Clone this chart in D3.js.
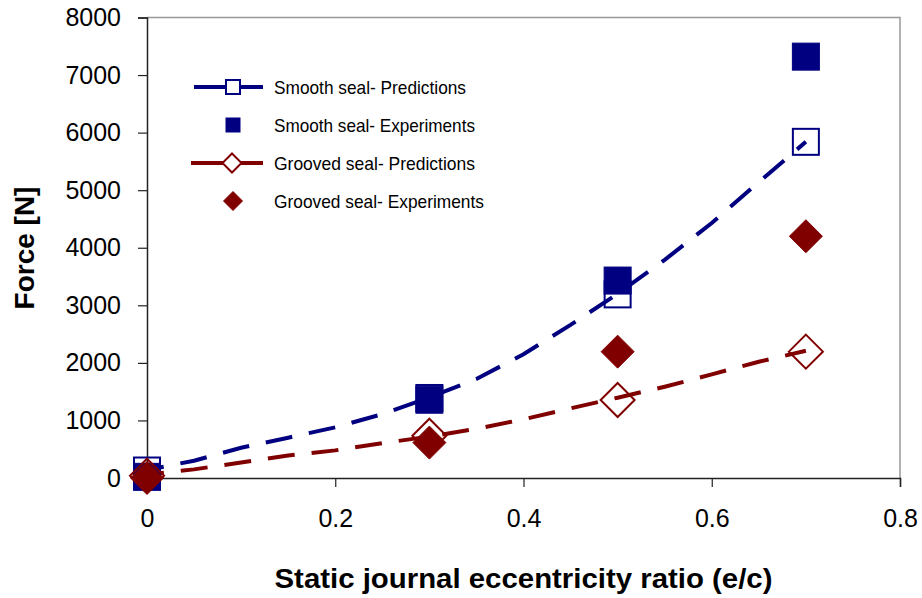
<!DOCTYPE html>
<html>
<head>
<meta charset="utf-8">
<script src="https://cdn.jsdelivr.net/npm/d3@7"></script>
<style>
  body { margin: 0; background: #fff; }
  text { font-family: "Liberation Sans", Arial, sans-serif; fill: #000; }
</style>
</head>
<body>
<svg id="chart" width="922" height="598"></svg>
<script>
// prediction curves
const curveX = [0, 0.05, 0.1, 0.15, 0.2, 0.25, 0.3, 0.35, 0.4, 0.45, 0.5, 0.55, 0.6, 0.65, 0.7];
const smoothPredCurve = [140, 300, 525, 700, 880, 1110, 1400, 1720, 2150, 2660, 3200, 3790, 4430, 5140, 5840];
const groovedPredCurve = [60, 150, 270, 390, 480, 605, 720, 855, 1020, 1210, 1395, 1585, 1800, 2020, 2210];

// markers
const markerX = [0, 0.3, 0.5, 0.7];
const smoothPred = [130, 1390, 3190, 5840];
const smoothExp = [20, 1360, 3430, 7320];
const groovedPred = [40, 735, 1355, 2195];
const groovedExp = [0, 615, 2195, 4200];

const xTicks = [0, 0.2, 0.4, 0.6, 0.8];
const yTicks = [0, 1000, 2000, 3000, 4000, 5000, 6000, 7000, 8000];
const legendLabels = [
  "Smooth seal- Predictions",
  "Smooth seal- Experiments",
  "Grooved seal- Predictions",
  "Grooved seal- Experiments"
];

const navy = "#000080";
const maroon = "#800000";

const svg = d3.select("#chart");
const plotLeft = 147, plotRight = 900, plotTop = 17.5, plotBottom = 478;

const x = d3.scaleLinear().domain([0, 0.8]).range([plotLeft, plotRight]);
const y = d3.scaleLinear().domain([0, 8000]).range([plotBottom, plotTop]);

// plot frame (top and right edges are grey)
svg.append("path")
  .attr("d", `M${plotLeft},${plotTop}H${plotRight}V${plotBottom}`)
  .attr("fill", "none")
  .attr("stroke", "#999")
  .attr("stroke-width", 1.5);

// axes
const xAxis = svg.append("g")
  .attr("transform", `translate(0,${plotBottom})`)
  .call(d3.axisBottom(x).tickValues(xTicks).tickSize(9).tickPadding(22)
    .tickFormat(d => d === 0 ? "0" : d3.format(".1f")(d)));
const yAxis = svg.append("g")
  .attr("transform", `translate(${plotLeft},0)`)
  .call(d3.axisLeft(y).tickValues(yTicks).tickSize(9).tickPadding(17).tickFormat(d3.format("d")));

[xAxis, yAxis].forEach(g => {
  g.select(".domain").attr("stroke", "#222").attr("stroke-width", 1.5);
  g.selectAll(".tick line").attr("stroke", "#222").attr("stroke-width", 1.2);
  g.selectAll(".tick text").attr("font-size", 25)
    .attr("font-family", "'Liberation Sans', Arial, sans-serif").attr("fill", "#000");
});

// axis titles
svg.append("text")
  .attr("x", (plotLeft + plotRight) / 2)
  .attr("y", 588)
  .attr("text-anchor", "middle")
  .attr("font-size", 27)
  .attr("font-weight", "bold")
  .attr("textLength", 498)
  .attr("lengthAdjust", "spacingAndGlyphs")
  .text("Static journal eccentricity ratio (e/c)");

svg.append("text")
  .attr("transform", "translate(34,248) rotate(-90)")
  .attr("text-anchor", "middle")
  .attr("font-size", 28)
  .attr("font-weight", "bold")
  .text("Force [N]");

// dashed prediction curves
const line = d3.line().x(d => x(d[0])).y(d => y(d[1]));
[[smoothPredCurve, navy], [groovedPredCurve, maroon]].forEach(([vals, col]) => {
  svg.append("path")
    .datum(curveX.map((cx, i) => [cx, vals[i]]))
    .attr("d", line)
    .attr("fill", "none")
    .attr("stroke", col)
    .attr("stroke-width", 4)
    .attr("stroke-dasharray", "27,17")
    .attr("stroke-dashoffset", 10);
});

// marker helpers
function square(g, cx, cy, s, col, filled) {
  g.append("rect")
    .attr("x", cx - s / 2).attr("y", cy - s / 2)
    .attr("width", s).attr("height", s)
    .attr("fill", filled ? col : "none")
    .attr("stroke", col)
    .attr("stroke-width", filled ? 1 : 2);
}
function diamond(g, cx, cy, s, col, filled) {
  const h = s / 2;
  g.append("path")
    .attr("d", `M${cx},${cy - h}L${cx + h},${cy}L${cx},${cy + h}L${cx - h},${cy}Z`)
    .attr("fill", filled ? col : "none")
    .attr("stroke", col)
    .attr("stroke-width", filled ? 1 : 2);
}

const markers = svg.append("g");
const series = [
  { vals: smoothPred, shape: square, col: navy, filled: false, size: 26 },
  { vals: smoothExp, shape: square, col: navy, filled: true, size: 27 },
  { vals: groovedPred, shape: diamond, col: maroon, filled: false, size: 34 },
  { vals: groovedExp, shape: diamond, col: maroon, filled: true, size: 33 }
];
series.forEach(s => {
  markerX.forEach((mx, i) => s.shape(markers, x(mx), y(s.vals[i]), s.size, s.col, s.filled));
});

// legend
const legend = svg.append("g");
const rowY = [87, 125, 163, 201];
const legendSize = [14, 14, 19, 19];
series.forEach((s, i) => {
  const ly = rowY[i];
  if (!s.filled) {
    legend.append("line")
      .attr("x1", s.shape === square ? 194 : 191).attr("x2", 263)
      .attr("y1", ly).attr("y2", ly)
      .attr("stroke", s.col).attr("stroke-width", 4);
    if (s.shape === square) {
      legend.append("rect").attr("x", 226).attr("y", ly - 7).attr("width", 14).attr("height", 14)
        .attr("fill", "#fff").attr("stroke", s.col).attr("stroke-width", 2);
    } else {
      const h = 9.5;
      legend.append("path")
        .attr("d", `M232,${ly - h}L${232 + h},${ly}L232,${ly + h}L${232 - h},${ly}Z`)
        .attr("fill", "#fff").attr("stroke", s.col).attr("stroke-width", 2);
    }
  } else {
    s.shape(legend, 233, ly, legendSize[i], s.col, true);
  }
  legend.append("text")
    .attr("x", 274)
    .attr("y", ly + 7)
    .attr("font-size", 19)
    .attr("textLength", [192, 201, 201, 210][i])
    .attr("lengthAdjust", "spacingAndGlyphs")
    .text(legendLabels[i]);
});
</script>
</body>
</html>
